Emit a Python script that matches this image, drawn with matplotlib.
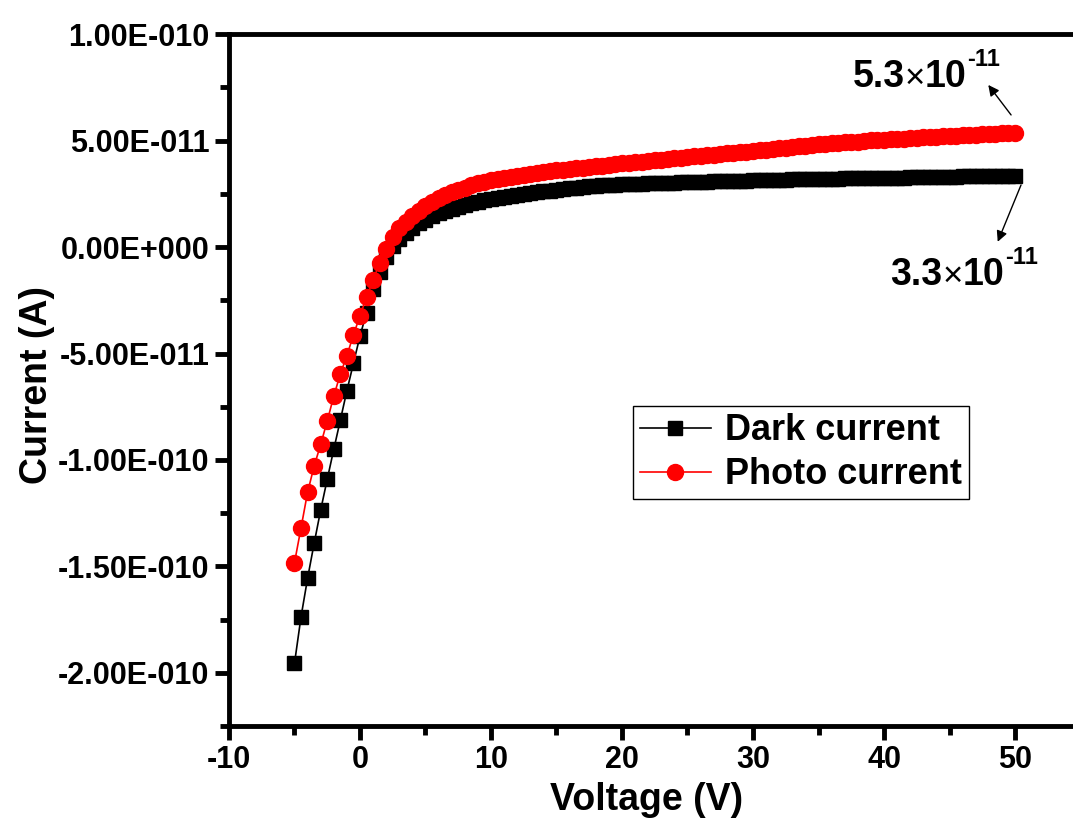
import matplotlib
matplotlib.use('Agg')
import matplotlib.pyplot as plt
from matplotlib.ticker import MultipleLocator, FixedLocator
import numpy as np

plt.rcParams['font.family'] = ['Liberation Sans', 'DejaVu Sans']
plt.rcParams['font.weight'] = 'bold'
plt.rcParams['axes.unicode_minus'] = False

# voltage sweep, -5 V to 50 V in 0.5 V steps
voltage = np.arange(-5, 50.5, 0.5)

# currents, in pA
dark_pA = [
    -195.6, -173.7, -155.6, -139.2, -123.5, -109.1, -95.0, -81.3, -67.5, -54.6,
    -41.8, -30.8, -19.8, -11.6, -4.5, 0.5, 3.8, 6.8, 9.2, 11.2,
    12.8, 14.4, 15.8, 17.0, 18.1, 19.0, 19.8, 20.6, 21.3, 22.0,
    22.6, 23.2, 23.7, 24.2, 24.7, 25.1, 25.5, 25.9, 26.3, 26.6,
    27.0, 27.3, 27.6, 27.9, 28.2, 28.5, 28.8, 29.0, 29.2, 29.4,
    29.5, 29.6, 29.7, 29.8, 29.9, 30.0, 30.1, 30.2, 30.3, 30.4,
    30.5, 30.6, 30.7, 30.8, 30.9, 30.9, 31.0, 31.1, 31.2, 31.2,
    31.3, 31.4, 31.5, 31.5, 31.6, 31.7, 31.8, 31.8, 31.9, 31.9,
    32.0, 32.1, 32.1, 32.2, 32.3, 32.3, 32.4, 32.4, 32.5, 32.5,
    32.6, 32.6, 32.7, 32.7, 32.8, 32.8, 32.9, 32.9, 33.0, 33.0,
    33.1, 33.1, 33.2, 33.2, 33.3, 33.3, 33.4, 33.4, 33.4, 33.5,
    33.5,
]
photo_pA = [
    -148.3, -131.9, -115.2, -102.9, -92.7, -81.7, -70.0, -59.6, -51.0, -41.3,
    -32.2, -23.6, -15.5, -7.5, -1.0, 4.6, 9.0, 12.0, 14.5, 17.2,
    19.5, 21.4, 23.0, 24.5, 25.8, 27.0, 28.0, 29.0, 30.0, 30.7,
    31.4, 32.0, 32.6, 33.1, 33.6, 34.1, 34.5, 34.9, 35.3, 35.7,
    36.0, 36.4, 36.7, 37.1, 37.4, 37.7, 38.0, 38.3, 38.6, 39.0,
    39.3, 39.6, 39.9, 40.2, 40.5, 40.8, 41.1, 41.4, 41.7, 42.0,
    42.3, 42.6, 42.9, 43.2, 43.5, 43.8, 44.1, 44.3, 44.6, 44.9,
    45.2, 45.5, 45.8, 46.1, 46.4, 46.8, 47.1, 47.4, 47.7, 48.0,
    48.3, 48.5, 48.7, 48.9, 49.2, 49.4, 49.6, 49.8, 50.1, 50.3,
    50.5, 50.7, 50.9, 51.0, 51.2, 51.4, 51.6, 51.8, 51.9, 52.1,
    52.3, 52.4, 52.6, 52.7, 52.9, 53.0, 53.2, 53.3, 53.5, 53.6,
    53.8,
]

y_ticks = [1e-10, 5e-11, 0, -5e-11, -1e-10, -1.5e-10, -2e-10]
y_ticklabels = ['1.00E-010', '5.00E-011', '0.00E+000', '-5.00E-011',
                '-1.00E-010', '-1.50E-010', '-2.00E-010']
x_ticks = [-10, 0, 10, 20, 30, 40, 50]

dark = np.array(dark_pA) * 1e-12
photo = np.array(photo_pA) * 1e-12

fig = plt.figure(figsize=(10.73, 8.3), dpi=100)
ax = fig.add_axes([0.2134, 0.1253, 0.7936, 0.8334])

ax.plot(voltage, dark, color='black', lw=1.2, marker='s', ms=9.5,
        mec='black', mfc='black', label='Dark current')
ax.plot(voltage, photo, color='#ff0000', lw=1.2, marker='o', ms=11.5,
        mec='#ff0000', mfc='#ff0000', label='Photo current')

ax.set_xlim(-10, 55)
ax.set_ylim(-2.25e-10, 1e-10)
ax.xaxis.set_major_locator(FixedLocator(x_ticks))
ax.xaxis.set_minor_locator(MultipleLocator(5))
ax.set_yticks(y_ticks)
ax.set_yticklabels(y_ticklabels)
ax.yaxis.set_minor_locator(MultipleLocator(2.5e-11))

for s in ax.spines.values():
    s.set_linewidth(3.5)
ax.tick_params(which='major', direction='out', length=10, width=3.5,
               labelsize=22, pad=4)
ax.tick_params(which='minor', direction='out', length=6.5, width=3.5)
for lab in ax.get_xticklabels() + ax.get_yticklabels():
    lab.set_fontweight('bold')

fig.text(647 / 1073, 1 - 800 / 830, 'Voltage (V)', fontsize=27,
         fontweight='bold', ha='center', va='center')
fig.text(37 / 1073, 1 - 385 / 830, 'Current (A)', fontsize=27,
         fontweight='bold', ha='center', va='center', rotation=90)

leg = ax.legend(loc='upper left', bbox_to_anchor=(633 / 1073, 1 - 406 / 830),
                bbox_transform=fig.transFigure, borderaxespad=0,
                fontsize=26, frameon=True, fancybox=False, edgecolor='black',
                framealpha=1, handlelength=1.95, handletextpad=0.4,
                labelspacing=0.25, borderpad=0.2)
leg.get_frame().set_linewidth(1.0)
for t in leg.get_texts():
    t.set_fontweight('bold')

arrow = dict(arrowstyle='-|>', color='black', lw=1.0, mutation_scale=16,
             shrinkA=0, shrinkB=0)
ax.annotate('', xy=(47.96, 76.2e-12), xytext=(49.7, 62.1e-12), arrowprops=arrow)
ax.annotate('', xy=(48.68, 2.5e-12), xytext=(50.46, 29.2e-12), arrowprops=arrow)

for x0, y0, base in [(37.6, 75.2e-12, '5.3'), (40.5, -17.9e-12, '3.3')]:
    t1 = ax.text(x0, y0, base, fontsize=27, fontweight='bold',
                 ha='left', va='baseline')
    t2 = ax.annotate('\u00d7', xy=(1, 0), xycoords=t1, xytext=(0, 0),
                     textcoords='offset points', fontsize=25,
                     fontweight='normal', ha='left', va='bottom')
    t3 = ax.annotate('10', xy=(1, 0), xycoords=t2, fontsize=27,
                     fontweight='bold', ha='left', va='bottom')
    ax.annotate('-11', xy=(1, 0.98), xycoords=t3, fontsize=17,
                fontweight='bold', ha='left', va='center')

fig.savefig('out.png', dpi=100)
